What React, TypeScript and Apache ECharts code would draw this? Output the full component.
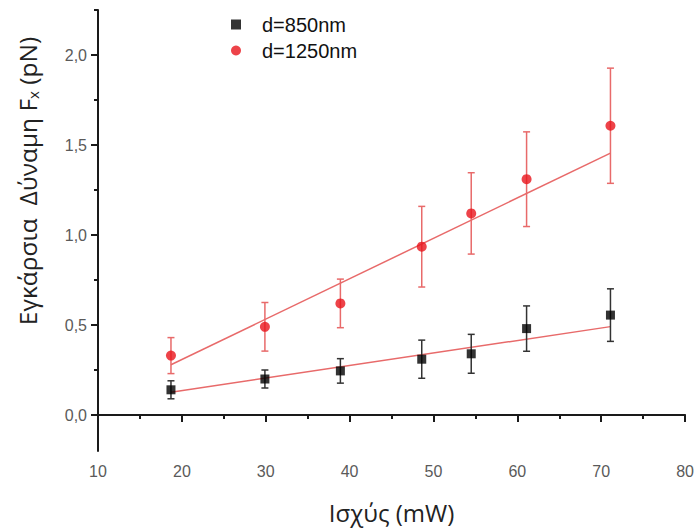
import React, { useEffect, useRef } from "react";
import * as echarts from "echarts";

const xPower = [18.7, 29.9, 38.9, 48.6, 54.5, 61.1, 71.1];
const force850 = [0.14, 0.2, 0.245, 0.31, 0.34, 0.48, 0.555];
const err850 = [0.05, 0.05, 0.068, 0.106, 0.108, 0.126, 0.146];
const force1250 = [0.33, 0.49, 0.62, 0.935, 1.12, 1.31, 1.607];
const err1250 = [0.1, 0.135, 0.135, 0.224, 0.226, 0.263, 0.32];
const fitX = [18.7, 71.1];
const fit850 = [0.127, 0.491];
const fit1250 = [0.279, 1.455];
const yMajorTicks = [0, 0.5, 1.0, 1.5, 2.0];
const yMinorTicks = [0.25, 0.75, 1.25, 1.75, 2.25];
const seriesNames = ["d=850nm", "d=1250nm"];

const RED = "#e8141c";
const RED_LIGHT = "#e86a6a";
const AXIS = "#1a1a1a";

function errorBars(color: string) {
  return (params: any, api: any) => {
    const x = api.value(0);
    const y = api.value(1);
    const e = api.value(2);
    const top = api.coord([x, y + e]);
    const bot = api.coord([x, y - e]);
    const hw = 3.5;
    const style = { stroke: color, lineWidth: 1.5 };
    return {
      type: "group",
      children: [
        { type: "line", shape: { x1: top[0], y1: top[1], x2: bot[0], y2: bot[1] }, style },
        { type: "line", shape: { x1: top[0] - hw, y1: top[1], x2: top[0] + hw, y2: top[1] }, style },
        { type: "line", shape: { x1: bot[0] - hw, y1: bot[1], x2: bot[0] + hw, y2: bot[1] }, style },
      ],
    };
  };
}

export default function App() {
  const ref = useRef<HTMLDivElement>(null);
  useEffect(() => {
    if (!ref.current) return;
    const chart = echarts.init(ref.current, null, { renderer: "svg" });
    const d850 = xPower.map((x, i) => [x, force850[i], err850[i]]);
    const d1250 = xPower.map((x, i) => [x, force1250[i], err1250[i]]);
    const f850 = fitX.map((x, i) => [x, fit850[i]]);
    const f1250 = fitX.map((x, i) => [x, fit1250[i]]);
    chart.setOption({
      animation: false,
      backgroundColor: "#ffffff",
      grid: { left: 98, right: 10, top: 10, bottom: 77, containLabel: false },
      legend: {
        data: [
          { name: seriesNames[0], icon: "rect" },
          { name: seriesNames[1], icon: "circle" },
        ],
        orient: "vertical",
        left: 226,
        top: 9,
        itemWidth: 10,
        itemHeight: 10,
        itemGap: 5,
        textStyle: {
          fontFamily: "Liberation Sans, Arial, sans-serif",
          fontSize: 20,
          color: "#111",
          lineHeight: 21,
          padding: [0, 0, 0, 16],
        },
      },
      xAxis: {
        type: "value",
        min: 10,
        max: 80,
        interval: 10,
        name: "Ισχύς (mW)",
        nameLocation: "middle",
        nameGap: 49,
        nameTextStyle: {
          fontFamily: "Open Sans, sans-serif",
          fontSize: 24,
          color: "#222",
        },
        axisLine: { show: true, lineStyle: { color: AXIS, width: 2 } },
        axisTick: { show: true, length: 7, lineStyle: { color: AXIS, width: 2 } },
        minorTick: { show: true, splitNumber: 2, length: 4, lineStyle: { color: AXIS, width: 2 } },
        axisLabel: {
          margin: 12,
          fontFamily: "Liberation Sans, Arial, sans-serif",
          fontSize: 16,
          color: "#5a5a5a",
        },
        splitLine: { show: false },
      },
      yAxis: [
        {
          type: "value",
          min: -0.2,
          max: 2.25,
          position: "left",
          axisLine: { show: true, lineStyle: { color: AXIS, width: 2 } },
          axisTick: {
            show: true,
            length: 7,
            customValues: yMajorTicks,
            lineStyle: { color: AXIS, width: 2 },
          },
          axisLabel: {
            customValues: yMajorTicks,
            margin: 11,
            fontFamily: "Liberation Sans, Arial, sans-serif",
            fontSize: 16,
            color: "#5a5a5a",
            formatter: (v: number) => v.toFixed(1).replace(".", ","),
          },
          splitLine: { show: false },
        },
        {
          type: "value",
          min: -0.2,
          max: 2.25,
          position: "left",
          axisLine: { show: false },
          axisTick: {
            show: true,
            length: 4,
            customValues: yMinorTicks,
            lineStyle: { color: AXIS, width: 2 },
          },
          axisLabel: { show: false, customValues: yMinorTicks },
          splitLine: { show: false },
        },
      ],
      graphic: [
        {
          type: "text",
          x: 27,
          y: 181,
          rotation: Math.PI / 2,
          style: {
            text: "Εγκάρσια  Δύναμη F{sub|x} (pN)",
            align: "center",
            verticalAlign: "middle",
            fontFamily: "Open Sans, sans-serif",
            fontSize: 24.5,
            fill: "#222",
            rich: {
              sub: {
                fontFamily: "Open Sans, sans-serif",
                fontSize: 15,
                fill: "#222",
                padding: [12, 0, 0, 0],
              },
            },
          },
        },
      ],
      series: [
        {
          type: "line",
          data: f1250,
          symbol: "none",
          lineStyle: { color: RED_LIGHT, width: 1.5 },
          silent: true,
          z: 2,
        },
        {
          type: "line",
          data: f850,
          symbol: "none",
          lineStyle: { color: RED_LIGHT, width: 1.5 },
          silent: true,
          z: 2,
        },
        {
          type: "custom",
          data: d1250,
          encode: { x: 0, y: 1 },
          renderItem: errorBars(RED_LIGHT),
          z: 3,
        },
        {
          type: "custom",
          data: d850,
          encode: { x: 0, y: 1 },
          renderItem: errorBars("#333"),
          z: 3,
        },
        {
          name: seriesNames[0],
          type: "scatter",
          data: d850.map((d) => [d[0], d[1]]),
          symbol: "rect",
          symbolSize: 9,
          itemStyle: { color: "#000" },
          z: 4,
        },
        {
          name: seriesNames[1],
          type: "scatter",
          data: d1250.map((d) => [d[0], d[1]]),
          symbol: "circle",
          symbolSize: 10,
          itemStyle: { color: RED },
          z: 4,
        },
      ],
    });
    return () => chart.dispose();
  }, []);
  return <div ref={ref} style={{ width: 697, height: 529, position: "absolute", left: 0, top: 0 }} />;
}
